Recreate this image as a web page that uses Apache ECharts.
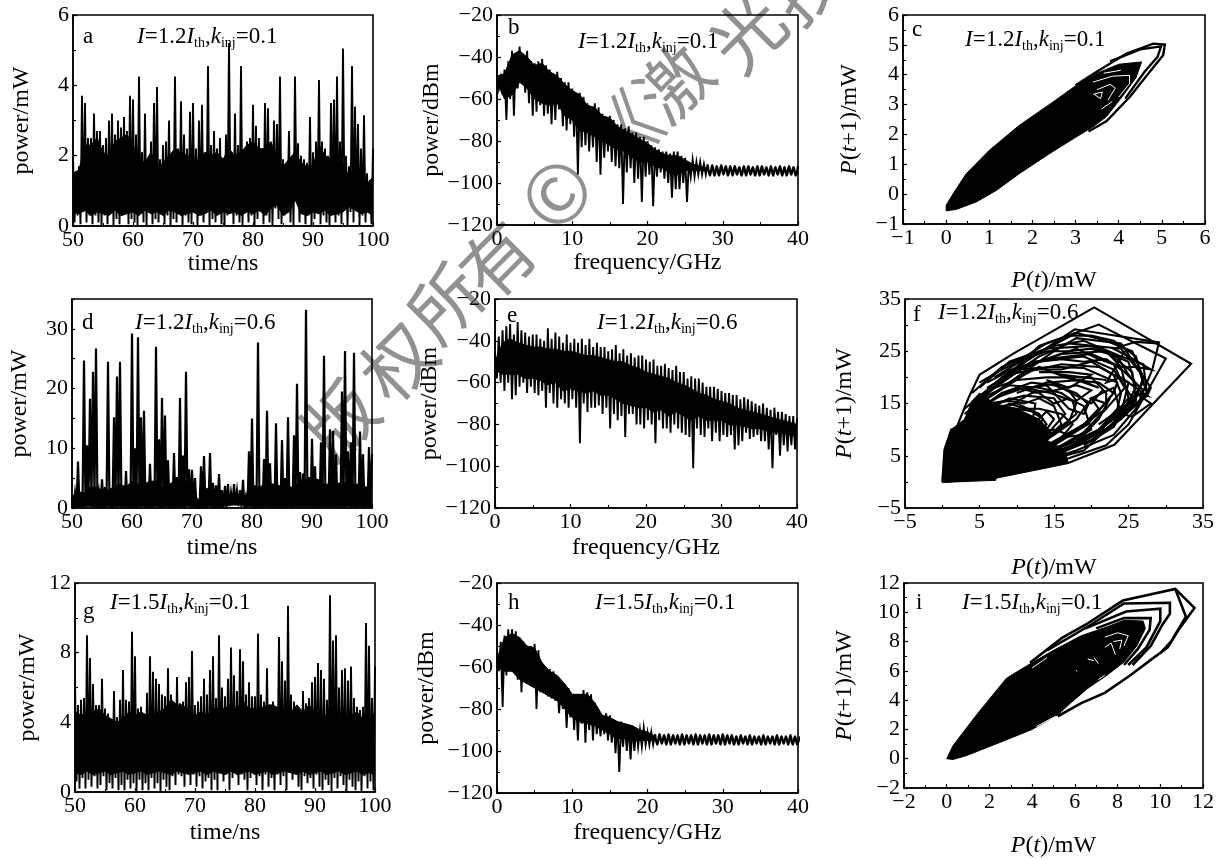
<!DOCTYPE html>
<html><head><meta charset="utf-8">
<style>html,body{margin:0;padding:0;background:#fff}#c{width:1217px;height:859px}</style>
<script src="https://cdn.jsdelivr.net/npm/echarts@6/dist/echarts.min.js"></script>
</head><body><div id="c"></div>
<script>
// ---------- time traces: spike tops and the valleys between them, every 0.5 ns from 50 ns ----------
const peaksA=[2.0,1.5,1.7,3.7,3.5,2.5,2.5,3.2,2.7,2.7,2.3,2.5,3.0,3.2,2.6,3.0,2.8,3.1,2.7,3.7,3.6,2.6,4.25,2.1,3.2,1.9,2.4,3.5,3.95,1.9,2.3,2.4,3.0,1.7,4.25,2.2,3.55,2.6,2.2,3.25,3.5,2.2,3.0,3.45,1.9,4.55,2.3,2.7,2.2,2.5,1.9,2.6,5.2,2.0,3.2,2.3,4.55,2.0,2.4,2.5,3.45,2.85,2.5,2.0,3.5,3.35,2.3,3.0,2.9,4.25,1.9,1.7,2.7,2.0,4.25,2.35,2.0,1.9,1.8,3.1,2.1,2.4,4.15,2.4,2.2,2.0,3.5,3.6,4.25,2.4,5.05,2.0,1.7,4.55,3.4,2.9,2.2,3.15,1.5,1.3,2.2];
const valleysA=[0.1,0.3,0.05,0.4,0.1,0.3,0.05,0.3,0.1,0.02,0.3,0.05,0.4,0.02,0.2,0.05,0.3,0.5,0.05,0.2,0.1,0.02,0.5,0.1,0.02,0.4,0.05,0.2,0.1,0.4,0.05,0.3,0.02,0.2,0.1,0.4,0.02,0.3,0.1,0.05,0.4,0.02,0.3,0.1,0.5,0.02,0.2,0.1,0.4,0.05,0.02,0.3,0.6,0.05,0.3,0.1,0.02,0.4,0.1,0.3,0.02,0.2,0.4,0.05,0.3,0.1,0.02,0.5,0.2,0.05,0.3,0.6,0.1,0.02,0.7,0.1,0.4,0.05,0.3,0.02,0.2,0.5,0.05,0.3,0.1,0.02,0.4,0.1,0.3,0.05,0.6,0.02,0.4,0.1,0.5,0.02,0.3,0.1,0.4,0.05,0.1];
const coreTopA=[1.5,1.6,2.3,2.3,2.5,2.1,2.0,2.4,2.5,2.6,2.3,1.9,1.8,2.1,1.6,1.8,2.0,2.2,2.1,2.0,1.9,1.9,2.1,2.0,2.1,1.9,2.2,2.0,2.1,2.3,2.4,2.2,2.2,2.4,1.9,1.7,1.9,2.1,1.8,1.7,1.7,2.3,2.0,1.9,2.1,1.8,1.4,1.7,1.6,1.2,1.4];
const coreLowA=[0.4,0.35,0.45,0.3,0.4,0.35,0.3,0.45,0.3,0.35,0.4,0.3,0.45,0.35,0.4,0.3,0.45,0.4,0.3,0.35,0.4,0.3,0.35,0.45,0.3,0.4,0.35,0.4,0.3,0.4,0.35,0.45,0.3,0.5,0.6,0.3,0.4,0.75,0.35,0.3,0.4,0.35,0.45,0.3,0.35,0.4,0.55,0.45,0.35,0.4,0.3];
const peaksD=[2,2.5,7.8,2.7,24.7,10.5,18.3,22.8,26.7,2.5,4.8,3.5,24.5,3,15.2,22,24.5,2,6.2,3.5,29.2,10,28.6,15.2,16.3,3.5,7.4,4.5,27,11.5,18.4,15.5,8,2.8,9.2,5.2,18.4,8.8,22.8,6.5,6.4,5,0.8,7,8.7,2.8,9.2,4.2,3.8,5.7,3,3.7,4,2.5,4,2.8,3,4.7,1.8,9.5,15,3.8,27.7,3.5,8.2,16.3,7.5,3.8,14.2,3,11.4,5,15.2,3.5,12.2,20.8,6,5.8,33.2,5.2,11.6,7,4,11,25.5,3,13.2,12.9,9,4.2,19.5,26.3,9.5,11,26,3.7,12.8,9,3,10.2,9];
const valleysD=[0.1,0.05,0.2,0.1,0.1,1.2,1.5,1.8,0.1,0.1,0.1,0.3,0.1,0.1,1.2,0.9,0.1,0.05,0.2,0.1,0.2,0.1,0.9,0.6,0.1,0.1,0.2,0.2,0.3,0.1,0.3,0.2,0.1,0.1,0.1,0.2,0.2,0.1,0.3,0.05,0.2,0.05,0.05,0.1,0.1,0.3,0.1,0.1,0.1,0.05,0.1,0.05,0.3,0.4,0.4,0.3,0.2,0.05,0.05,0.2,0.1,0.1,0.2,0.1,0.2,0.3,0.05,0.1,0.1,0.05,0.2,0.1,0.2,0.1,0.3,0.2,0.1,0.05,0.2,0.1,0.2,0.1,0.1,0.3,0.1,0.2,0.2,0.1,0.1,0.3,0.3,0.4,0.2,0.3,0.1,0.2,0.2,0.1,0.2,0.1,0.1];
const coreTopD=[2,2.5,2.5,3.5,3.5,3,3,3.5,4,3.5,4.5,4,4,4.5,4.5,3.5,3.8,4.5,4.8,4.5,4,1.2,3,3.5,3,2.5,2.2,2.2,1.8,2.2,3.5,3.5,3.8,4,4,3.5,3.5,3.5,4.5,4.8,4.8,4.8,4,4,4,4,4.5,4,4,3.5,3.5];
const coreLowD=[0.3,0.2,0.3,0.3,0.2,0.2,0.3,0.2,0.3,0.3,0.2,0.2,0.3,0.2,0.3,0.2,0.3,0.2,0.2,0.3,0.3,0.2,0.2,0.3,0.2,0.3,0.5,0.6,0.6,0.3,0.3,0.2,0.3,0.2,0.3,0.2,0.3,0.2,0.2,0.3,0.2,0.3,0.2,0.2,0.3,0.2,0.3,0.2,0.3,0.2,0.3];
const peaksG=[6.4,5,5.3,5.4,9,7.7,6.2,5,5,6.5,4.8,4.5,4.2,5.8,4.3,5.3,7,5.3,5.2,9.2,7.8,4.8,4.9,4.2,5.7,7.8,6.9,6.5,6.2,5.6,5.5,7.1,5.6,4.5,6.6,5.1,5.2,6.3,6.6,8.1,5,5.2,5.5,6.5,5.6,7,7.8,5.4,9,6,5.5,6.5,8.3,6.7,5.8,8.2,7.5,5.6,6.3,5.5,5.5,9.1,5.6,5.2,7.1,5,5.2,4.9,8.9,7.5,6.4,10.7,5.6,5.2,4.8,4.2,5.8,5.1,5.4,6.3,6.6,7.4,7,6.5,5.3,11.3,8.7,9,6,7,7.1,6.4,7.2,5.4,4.9,4.7,4.9,9.7,8.4,5.4,7.2];
const valleysG=[0.6,0.2,0.8,0.2,0.7,0.3,0.9,0.2,0.4,0.9,0.1,0.5,0.2,0.8,0.1,0.4,0.1,0.7,0.2,0.5,0.05,0.7,0.1,0.5,0.1,0.8,0.2,0.5,0.05,0.7,0.3,0.1,0.9,0.4,1,0.9,0.3,1.1,0.4,1,0.3,0.9,0.2,0.6,0.8,0.1,0.7,0.1,1.3,0.6,1,0.1,0.8,1.1,0.4,1,0.7,0.1,0.8,1.2,0.4,0.9,0.1,1,0.3,0.8,0.1,1,0.4,0.9,0.1,1.1,0.7,1,0.3,0.1,0.9,0.5,0.8,0.2,1,0.3,0.1,0.7,0.4,0.05,0.8,0.2,0.9,0.4,0.05,0.7,0.3,0.1,0.6,0.05,0.9,0.2,0.6,0.1,1.2];
const coreTopG=[4.6,4.4,4.6,4.6,4.8,4.4,4.2,4.0,4.2,4.6,4.4,4.6,4.4,4.4,4.6,4.8,5.3,5.0,5.0,4.6,4.4,4.6,4.4,4.8,4.8,4.8,5.0,4.8,5.2,4.8,4.8,4.8,5.0,5.0,4.8,4.6,4.6,5.0,4.6,5.0,4.6,4.4,4.4,4.6,4.2,4.0,4.4,4.6,4.2,4.0,4.6];
const coreLowG=[1.1,1.0,1.2,1.0,1.1,1.2,1.0,1.1,1.2,1.0,1.1,1.2,1.0,1.1,1.2,1.1,1.0,1.2,1.1,1.0,1.1,1.2,1.0,1.2,1.1,1.0,1.2,1.0,1.1,1.2,1.0,1.1,1.2,1.0,1.1,1.2,1.1,1.0,1.2,1.0,1.1,1.2,1.0,1.1,1.2,1.0,1.1,1.2,1.0,1.1,1.0];
// ---------- power spectra: upper and lower edges every 0.5 GHz; solid core every 1 GHz; ripple tail every 0.6 GHz ----------
const topB=[-48,-50,-46,-42,-37,-38,-35,-39,-37,-42,-43,-42,-41,-44,-46,-48,-47,-50,-52,-52,-55,-57,-57,-59,-62,-64,-62,-64,-67,-69,-68,-70,-72,-72,-74,-73,-76,-76,-78,-78,-80,-82,-83,-84,-85,-85,-86,-85,-85,-87,-88,-90,-89,-90,-90,-91,-91];
const lowB=[-55,-58,-70,-60,-68,-55,-52,-57,-62,-68,-66,-63,-68,-67,-72,-70,-65,-73,-75,-72,-78,-96,-83,-82,-85,-83,-90,-96,-88,-85,-90,-92,-93,-110,-95,-93,-100,-98,-109,-97,-96,-111,-97,-95,-98,-100,-107,-103,-103,-100,-109,-97,-97,-96,-96,-96,-96];
const coreTopB=[-49,-48,-39,-37,-40,-44,-43,-47,-49,-53,-56,-58,-63,-64,-68,-69,-73,-75,-77,-79,-81,-84,-86,-87,-87,-89,-91,-92,-93];
const coreLowB=[-52,-60,-58,-52,-55,-60,-62,-63,-62,-68,-70,-75,-76,-78,-80,-82,-84,-85,-88,-90,-90,-92,-93,-95,-96,-94,-94,-94,-94];
const tailTopB=[-91.5,-91.5,-92,-91.5,-92,-92,-92,-92.5,-92,-92,-92.5,-92,-92,-92.5,-92,-92.5,-92,-92.5,-92,-92.5,-92];
const tailLowB=[-96.5,-96.5,-96.5,-96,-96.5,-96.5,-96,-96.5,-96.5,-96,-96.5,-96.5,-96,-96.5,-96.5,-96,-96.5,-96.5,-96,-96.5];
const topE=[-45,-38,-35,-33,-32,-37,-31,-35,-36,-38,-37,-37,-39,-40,-34,-39,-36,-38,-41,-37,-41,-39,-41,-39,-42,-39,-43,-41,-43,-43,-45,-44,-42,-46,-44,-47,-46,-48,-47,-47,-49,-50,-49,-52,-52,-51,-53,-54,-52,-55,-55,-58,-57,-58,-58,-60,-62,-62,-62,-63,-64,-65,-65,-66,-66,-68,-67,-68,-69,-70,-71,-70,-72,-73,-72,-74,-74,-75,-76,-76,-77];
const lowE=[-58,-60,-64,-60,-68,-66,-62,-60,-65,-62,-65,-66,-64,-72,-65,-70,-72,-68,-70,-72,-68,-72,-89,-70,-74,-72,-72,-71,-75,-72,-82,-75,-78,-76,-86,-75,-75,-80,-80,-82,-78,-80,-89,-78,-82,-82,-84,-80,-82,-84,-85,-86,-101,-82,-85,-86,-82,-88,-84,-88,-85,-86,-85,-92,-90,-88,-84,-87,-86,-85,-88,-88,-92,-101,-85,-95,-90,-93,-90,-92,-110];
const coreTopE=[-50,-41,-39,-41,-42,-43,-43,-44,-44,-45,-45,-46,-47,-47,-48,-49,-50,-50,-52,-53,-55,-56,-57,-58,-60,-61,-63,-65,-66,-68,-69,-70,-72,-73,-74,-75,-76,-77,-78,-79,-80];
const coreLowE=[-54,-56,-56,-56,-58,-58,-59,-61,-60,-64,-63,-64,-65,-64,-66,-66,-68,-70,-71,-72,-72,-74,-73,-76,-74,-76,-78,-76,-78,-78,-78,-80,-80,-81,-82,-82,-83,-84,-84,-85,-86];
const topH=[-55,-48,-45,-42,-42,-43,-46,-48,-50,-50,-49,-52,-58,-60,-61,-62,-65,-68,-68,-70,-73,-75,-73,-71,-72,-73,-77,-81,-83,-82,-83,-85,-86,-86,-87,-88,-88,-89,-90,-89,-91,-91,-92];
const lowH=[-62,-79,-64,-62,-62,-66,-72,-66,-67,-64,-80,-72,-72,-74,-75,-76,-82,-80,-89,-84,-90,-95,-87,-96,-90,-95,-92,-93,-92,-95,-96,-101,-110,-98,-100,-104,-100,-98,-98,-97,-97,-97,-97];
const coreTopH=[-56,-46,-44,-46,-50,-51,-58,-62,-64,-68,-73,-73,-73,-77,-83,-84,-86,-87,-88,-90,-91,-93];
const coreLowH=[-60,-62,-62,-66,-68,-70,-72,-74,-76,-80,-84,-86,-87,-88,-90,-92,-94,-94,-95,-95,-95,-95];
const tailTopH=[-92,-92,-92.5,-92,-92.5,-92.5,-92,-92.5,-92.5,-92,-92.5,-92.5,-92,-92.5,-92.5,-92,-92.5,-92.5,-93,-92.5,-93,-92.5,-93,-93,-92.5,-93,-93,-92.5,-93,-93,-92.5,-93,-93];
const tailLowH=[-97,-96.5,-97,-97,-96.5,-97,-97,-96.5,-97,-97,-96.5,-97,-97,-96.5,-97,-97,-96.5,-97,-97,-96.5,-97,-97,-96.5,-97,-97,-96.5,-97,-97,-96.5,-97,-97,-97];
// ---------- phase portraits: filled body and the loops around it, [P(t), P(t+1)] ----------
const bodyC=[[0,-0.37],[0.2,0.1],[0.47,0.69],[1,1.47],[1.7,2.31],[2.48,3.09],[3.02,3.65],[3.5,4.05],[4.0,4.35],[4.53,4.43],[4.4,3.9],[4.1,3.3],[3.72,2.6],[3.4,2.25],[3.02,1.92],[2.4,1.36],[1.7,0.69],[1.17,0.13],[0.7,-0.26],[0.24,-0.51],[0,-0.56]];
const loopsC=[
 [[3,3.65],[3.49,4.1],[4.18,4.71],[4.8,5.04],[5.07,5.01],[5.03,4.65],[4.72,4.1],[4.26,3.26],[3.72,2.45],[3.3,2.1]],
 [[3.8,4.45],[4.5,4.85],[4.98,4.95],[4.9,4.6],[4.6,4.1],[4.15,3.2]]];
const whiteC=[[[3.4,3.75],[3.85,3.95],[4.25,3.98],[4.25,3.7],[4.0,3.25]],[[3.5,3.5],[3.8,3.68],[3.92,3.55],[3.75,3.15]],[[3.42,3.35],[3.62,3.42],[3.58,3.2],[3.42,3.35]],[[3.6,2.85],[3.85,3.1]],[[3.65,4.05],[4.05,4.15]]];
const bodyF=[[0,0],[0.3,6.2],[1.2,10],[3,12],[4,15.5],[5,17],[7,15],[10,14],[13,12],[15,9],[14,8],[16.5,6],[16.9,3.6],[7.2,0.8],[7.2,0.3],[0,-0.1]];
const loopsF=[
 [[0,0],[0.3,6.2],[1.2,10],[1.9,10.3],[3.5,16],[5,20.5],[9.6,24.6],[20.4,33.4],[33.4,22.6],[23.1,7.1],[16.9,3.6],[7.2,0.8],[0,0]],
 [[7,18],[13,26],[21,30.1],[30,23.6],[27,16],[25,11],[22,7],[17,4.5],[8,1.5]],
 [[8,20],[17.8,29.2],[29.1,26.7],[28.2,21.5],[26,14],[23,9],[18,6],[9,2]],
 [[9,19],[15,25],[18,27.5],[24,26.5],[28,18],[27.5,16.5],[25,14],[22,10],[19,6],[10,2.5]],
 [[6,17],[13,24],[17,26.5],[24,25.5],[26.5,21],[27.5,17],[24,12],[20,8],[15,5],[8,2]],
 [[5,18],[9,23],[15,26],[19,27],[24,24],[27,22.5],[27.5,16.5],[23,11],[18,7],[11,3]],
 [[4,17],[8,22],[14,25.5],[20,26],[25,23],[26,18],[24,13],[19,8],[14,5]],
 [[5,16],[10,21.5],[16,24.5],[22,25],[25.5,21],[26,15.5],[22,10],[17,6.5],[11,3.5]],
 [[3,14],[8,20],[14,23.5],[20,24.5],[24,22],[25,16],[21,9.5],[16,6],[9,3]],
 [[6,16],[11,21],[16,22.5],[21,22],[25,19],[24,13],[20,9],[14,5.5]],
 [[4,15],[10,21.5],[15,22],[19,21.8],[23.5,19],[23,17],[20,12],[16,8],[10,4]],
 [[5,15],[11,20.5],[13,22],[17.5,19.5],[21,19],[23,17],[19.5,11],[15,7],[9,4]],
 [[6,17],[12,23],[19,24],[23,21.5],[24.5,18],[22,14],[18,10],[13,6]],
 [[4,13],[8,17],[12,19],[15,18.5],[18,17],[19.5,15],[18,12],[15,9],[10,5]],
 [[5,14],[9,17.5],[14,18.5],[17,14],[19,13],[20,16],[21,14],[19,11],[14,7]],
 [[4,12],[7,16],[11,18],[14.5,17],[17.5,15.5],[18,13],[15,9.5],[11,6]],
 [[3,11],[7,15],[11,16.5],[15,16],[16.5,13],[14,9],[10,6]],
 [[5,13],[9,16],[12.5,15],[12,10.5],[14,13.5],[15,12],[13,8]],
 [[3,10],[6,14],[10,15],[13,13],[14,11],[12,8],[8,5]],
 [[22,19.5],[16,20.5],[21,18],[18.5,19.5],[14,19],[10,17]],
 [[22,15],[20,16],[23,18],[24,13],[25.5,12.5],[28,15],[26,17],[27.5,16.5],[24,20],[22,19],[24.5,25]],
 [[22,25],[24,22],[26,22],[28,21.5],[25,24],[23,25.5],[26,26.8],[29,26.5]],
 [[5,19],[8,21.5],[12,24],[16,27],[18,28.5],[22,27],[25.5,25],[27,20],[26,16],[23,12]],
 [[7,20],[11,23.5],[14,25],[17,25],[20,25.5],[23.5,24],[25,20.5],[26.5,18],[25,13.5],[21,9]],
 [[6,19],[10,22],[13,23],[16,23.5],[19,23],[22,23.5],[24.5,21],[27,17.5],[24.5,14.5],[21,11]],
 [[8,21],[12,22.5],[15,24],[18,25.5],[21,23.5],[23,22.5],[24,19.5],[25.5,16],[23,10.5],[19,7]],
 [[6,18],[9,20.5],[12,21.5],[16,21.5],[20,23],[23,20.5],[24,17],[23.5,14],[21,10],[18,8]],
 [[4,14.5],[7,18],[10,19.5],[14,20],[17,20],[20,20],[22,17],[22,14],[19,9.5],[16,7]],
 [[3,13],[6,16.5],[9,18.5],[13,18],[16,17],[18,15],[17,11.5],[14,8],[12,6]],
 [[3,12],[6,15],[9,15.5],[11,15],[13,16],[15,14.5],[16,11],[13,7],[10,5]],
 [[4,13],[7,14.5],[10,14],[12,13.5],[13.5,12],[12.5,9.5],[15,10],[17,9],[14,6.5]],
 [[7,16],[10,18],[13,17],[15,15],[17,16],[19,14.5],[20,10],[17,7.5],[13,5.5]],
 [[10,23],[14,26.5],[17,28],[20,28],[23,27],[26,24],[27,19],[25,15],[22,11],[20,7.5]],
 [[7,13],[9,15],[11,14],[13,14],[16,13],[17.5,11],[16,8.5],[19,9],[21,12],[22.5,16]],
 [[9,14.5],[12,17],[15,17.5],[18,18.5],[19,18],[20,17.5],[18,15.5],[17,17.5]],
 [[13,21],[17,21],[20,20.5],[17,18],[14,19.5],[18,16.5],[20,15],[21.5,17.5]]];
const bodyI=[[0,0],[0.3,0.9],[1.4,3],[2.8,5.5],[3.7,6.3],[5,7.4],[6.3,8.4],[7.5,9],[8.3,9.45],[9.2,9.4],[9.3,8.9],[8.9,7.7],[8.3,6.6],[7.5,5.7],[6.6,4.8],[5.8,3.8],[5.2,3.0],[4,2],[2.3,1],[0.9,0.2],[0.3,-0.05]];
const loopsI=[
 [[3.9,6.55],[5.4,8.25],[6.5,9.15],[8.25,10.8],[10.7,11.6],[11.6,10.3],[10.9,8.9],[10.35,7.6],[9.6,6.8],[8.6,5.7],[7.4,4.5],[6.3,3.8],[5.2,2.9]],
 [[4.7,7.4],[6,8.5],[6.8,9.2],[8.3,10.6],[10.45,10.65],[10.45,9.9],[10.1,9.15],[9.55,7.7],[8.7,6.4]],
 [[6.5,8.9],[8.4,10.05],[10,10.25],[10,9.4],[9.35,7.6],[8.5,6.4]],
 [[7,8.9],[8.3,9.6],[9.55,9.6],[9.5,8.8],[8.95,7.5],[8.3,6.4]],
 [[10.7,11.6],[11.2,9.7],[10.5,8],[10,7.2]]];
const whiteI=[[[7.4,8.3],[8,8.6],[8.5,8.4],[8.3,7.7]],[[7.8,8],[8.2,8.1],[8.1,7.5]],[[7.4,7.6],[7.7,7.9],[7.9,7.1]],[[6.9,6.9],[7.1,6.5]],[[6.6,6.8],[6.9,6.7]],[[4,6.2],[4.7,6.9]],[[4.2,2.2],[5.1,2.9]],[[6.05,6.05],[6.12,5.95]],[[7.1,5.4],[7.4,5.7]]];
const tickFmt=v=>String(v).replace('-','\u2212');
const T0=50,TS=0.5,TC=1,F0=0,FS=0.5,FC=1,TAIL=0.6;

function zig(start,step,tops,lows){const out=[];tops.forEach((v,i)=>{out.push([start+i*step,v]);if(i<lows.length&&i<tops.length-1)out.push([start+(i+0.5)*step,lows[i]]);});return out;}
function band(start,step,tops,lows){const up=tops.map((v,i)=>[start+i*step,v]);const dn=lows.map((v,i)=>[start+i*step,v]).reverse();return up.concat(dn);}

const base={fontFamily:'"Liberation Serif"',color:'#000'};
const rich={i:{fontFamily:'"Liberation Serif"',fontStyle:'italic',fontSize:23,lineHeight:27,fill:'#000',color:'#000'},
 n:{fontFamily:'"Liberation Serif"',fontSize:23,lineHeight:27,fill:'#000',color:'#000'},
 s:{fontFamily:'"Liberation Serif"',fontSize:14,lineHeight:15,verticalAlign:'bottom',fill:'#000',color:'#000'},
 I:{fontFamily:'"Liberation Serif"',fontStyle:'italic',fontSize:24,lineHeight:28,color:'#000'},
 N:{fontFamily:'"Liberation Serif"',fontSize:24,lineHeight:28,color:'#000'}};
const PX='{I|P}{N|(}{I|t}{N|)/mW}',PY='{I|P}{N|(}{I|t}{N|+1)/mW}';

const panels=[
 {b:[73,373,15,226],x:[50,100,10],y:[0,6,2],xn:'time/ns',yn:'power/mW',xg:26,yg:39,l:'a',lp:[83,37],a:'1.2|0.1',ap:[137,37]},
 {b:[497,798,15,225],x:[0,40,10],y:[-120,-20,20],xn:'frequency/GHz',yn:'power/dBm',xg:26,yg:53,l:'b',lp:[508,28],a:'1.2|0.1',ap:[578,42]},
 {b:[903,1205,15,224],x:[-1,6,1],y:[-1,6,1],xn:PX,yn:PY,xg:43,yg:39,l:'c',lp:[912,30],a:'1.2|0.1',ap:[965,40]},
 {b:[72,372,299,508],x:[50,100,10],y:[0,35,5,10],xn:'time/ns',yn:'power/mW',xg:28,yg:40,l:'d',lp:[82,323],a:'1.2|0.6',ap:[135,323]},
 {b:[495,797,299,508],x:[0,40,10],y:[-120,-20,20],xn:'frequency/GHz',yn:'power/dBm',xg:28,yg:51,l:'e',lp:[507,316],a:'1.2|0.6',ap:[597,323]},
 {b:[905,1206,299,508],x:[-5,35,5,10,5],y:[-5,35,5,10,5],xn:PX,yn:PY,xg:46,yg:46,l:'f',lp:[913,315],a:'1.2|0.6',ap:[938,313]},
 {b:[75,375,583,792],x:[50,100,10],y:[0,12,4],xn:'time/ns',yn:'power/mW',xg:29,yg:35,l:'g',lp:[83,612],a:'1.5|0.1',ap:[110,603]},
 {b:[497,798,583,793],x:[0,40,10],y:[-120,-20,20],xn:'frequency/GHz',yn:'power/dBm',xg:28,yg:58,l:'h',lp:[508,603],a:'1.5|0.1',ap:[595,603]},
 {b:[904,1206,583,792],x:[-2,12,2],y:[-2,12,2],xn:PX,yn:PY,xg:44,yg:45,l:'i',lp:[916,603],a:'1.5|0.1',ap:[962,603]}
];

function axis(sp,name,gap,idx,isY){
 const [min,max,iv,labelEvery,offset]=sp;
 const every=labelEvery||iv;
 return {type:'value',gridIndex:idx,min,max,interval:iv,
  name,nameLocation:'middle',nameGap:gap,nameRotate:isY?90:0,
  nameTextStyle:{fontFamily:'"Liberation Serif"',fontSize:24,color:'#000',rich},
  axisLine:{show:true,onZero:false,lineStyle:{color:'#000',width:1.6}},
  axisTick:{show:true,inside:true,length:labelEvery?3:4,lineStyle:{color:'#000',width:1.2}},
  minorTick:{show:!labelEvery,splitNumber:2,length:3,lineStyle:{color:'#000',width:1}},
  splitLine:{show:false},minorSplitLine:{show:false},
  axisLabel:{show:true,showMinLabel:true,showMaxLabel:true,hideOverlap:false,fontFamily:'"Liberation Serif"',fontSize:22,color:'#000',margin:isY?4:3,
   formatter:v=>{const r=((v-(offset?-5:0))%every+every)%every;return r<1e-9?tickFmt(v):'';}}};
}

const lineS=(i,data,w,color,smooth)=>({type:'line',xAxisIndex:i,yAxisIndex:i,data,smooth:smooth||false,showSymbol:false,symbol:'none',silent:true,animation:false,z:4,lineStyle:{color:color||'#000',width:w,join:'miter'}});
const polyS=(i,pts)=>({type:'custom',xAxisIndex:i,yAxisIndex:i,coordinateSystem:'cartesian2d',silent:true,animation:false,z:3,clip:true,data:pts,encode:{x:0,y:1},
 renderItem:(p,api)=>p.dataIndex===0?{type:'polygon',shape:{points:pts.map(q=>api.coord(q))},style:{fill:'#000',stroke:'#000',lineWidth:1}}:null});

const series=[
 polyS(0,band(T0,TC,coreTopA,coreLowA)),lineS(0,zig(T0,TS,peaksA,valleysA),1.9),
 polyS(1,band(F0,FC,coreTopB,coreLowB)),lineS(1,zig(F0,FS,topB,lowB),1.9),lineS(1,zig(28,TAIL,tailTopB,tailLowB),2.3,'#000',0.4),
 polyS(2,bodyC),...loopsC.map(l=>lineS(2,l,2.4)),...whiteC.map(l=>lineS(2,l,1,'#fff')),
 polyS(3,band(T0,TC,coreTopD,coreLowD)),lineS(3,zig(T0,TS,peaksD,valleysD),2.2),
 polyS(4,band(F0,FC,coreTopE,coreLowE)),lineS(4,zig(F0,FS,topE,lowE),1.9),
 polyS(5,bodyF),...loopsF.map(l=>lineS(5,l,2.1)),
 polyS(6,band(T0,TC,coreTopG,coreLowG)),lineS(6,zig(T0,TS,peaksG,valleysG),1.9),
 polyS(7,band(F0,FC,coreTopH,coreLowH)),lineS(7,zig(F0,FS,topH,lowH),1.9),lineS(7,zig(21,TAIL,tailTopH,tailLowH),2.3,'#000',0.4),
 polyS(8,bodyI),...loopsI.map(l=>lineS(8,l,2.6)),...whiteI.map(l=>lineS(8,l,1,'#fff'))
];

const annText=a=>{const [c,k]=a.split('|');return '{i|I}{n|='+c+'}{i|I}{s|th}{n|,}{i|k}{s|inj}{n|='+k+'}';};
const texts=[];
panels.forEach(p=>{
 texts.push({type:'text',z:20,style:{x:p.lp[0],y:p.lp[1],text:p.l,fontFamily:'"Liberation Serif"',fontSize:23,fill:'#000',verticalAlign:'middle'}});
 texts.push({type:'text',z:20,style:{x:p.ap[0],y:p.ap[1],text:annText(p.a),rich,fontFamily:'"Liberation Serif"',fontSize:23,fill:'#000',verticalAlign:'middle'}});
});
// watermark glyphs, drawn beneath the plots
const markGlyphs=['版','权','所','有','©','《','激','光','技','术','》'];
const markAt=[[340,420],[398,362],[445,303],[497,260],[556,193],[622,133],[674,83],[747,33],[805,-15],[860,-70],[915,-125]];
markGlyphs.forEach((g,k)=>{
 texts.unshift({type:'text',z:-10,x:markAt[k][0],y:markAt[k][1],rotation:Math.PI/4,silent:true,
  style:{x:0,y:0,text:g,fontFamily:'"Noto Sans CJK SC"',fontSize:g==='©'?80:72,fill:'#919191',align:'center',verticalAlign:'middle'}});
});

const chart=echarts.init(document.getElementById('c'),null,{renderer:'canvas',width:1217,height:859});
chart.setOption({
 backgroundColor:'#fff',animation:false,
 textStyle:base,
 grid:panels.map(p=>({left:p.b[0],top:p.b[2],width:p.b[1]-p.b[0],height:p.b[3]-p.b[2],show:true,borderColor:'#000',borderWidth:1.6,backgroundColor:'transparent',containLabel:false})),
 xAxis:panels.map((p,i)=>axis(p.x,p.xn,p.xg,i,false)),
 yAxis:panels.map((p,i)=>axis(p.y,p.yn,p.yg,i,true)),
 series,
 graphic:texts
});
</script></body></html>
